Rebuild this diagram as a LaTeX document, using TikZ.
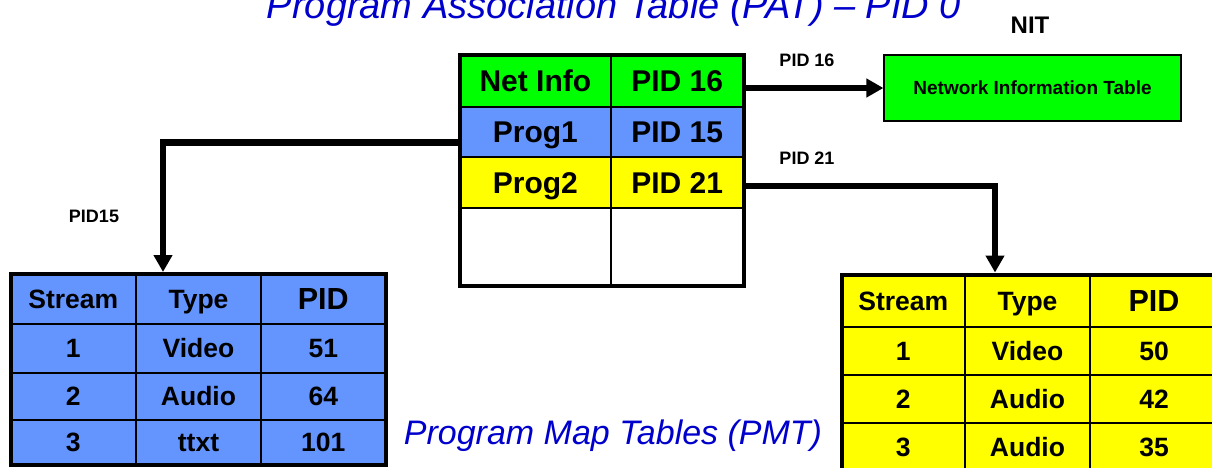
\documentclass[tikz,border=0pt]{standalone}
\usepackage{fontspec}
\setmainfont{Liberation Sans}
\usetikzlibrary{arrows.meta,fit}
\definecolor{netgreen}{RGB}{0,255,0}
\definecolor{progblue}{RGB}{100,149,255}
\definecolor{progyellow}{RGB}{255,255,0}
\definecolor{titleblue}{RGB}{0,0,204}
\begin{document}
\begin{tikzpicture}[x=1pt,y=-1pt,
  cell/.style={draw=black, line width=2pt, inner sep=0pt, outer sep=0pt,
    text height={#1pt*0.716}, text depth=0pt, font=\bfseries\fontsize{#1}{#1}\selectfont},
  cell/.default=26.5,
  sz/.style 2 args={minimum width=#1pt, minimum height=#2pt},
  frame/.style={draw=black, line width=4pt, inner sep=0pt},
  conn/.style={draw=black, line width=6.5pt, -{Triangle[width=18pt,length=17pt]}},
  lbl/.style={font=\bfseries\fontsize{18}{18}\selectfont, inner sep=0pt},
  heading/.style={font=\itshape\fontsize{#1}{#1}\selectfont, text=titleblue, inner sep=0pt, anchor=base}
]
\useasboundingbox (0,0) rectangle (1212,467);
\clip (0,0) rectangle (1212,467);
\fill[white] (0,0) rectangle (1212,467);

% Program Association Table
\node[cell=30, fill=netgreen, sz={151.7}{51.7}]   (netinfo) at (535.35,81.2)  {Net Info};
\node[cell=30, fill=netgreen, sz={132.8}{51.7}]   (pid16)   at (677.1,81.2)   {PID 16};
\node[cell=30, fill=progblue, sz={151.7}{50}]     (prog1)   at (535.35,131.7) {Prog1};
\node[cell=30, fill=progblue, sz={132.8}{50}]     (pid15)   at (677.1,131.7)  {PID 15};
\node[cell=30, fill=progyellow, sz={151.7}{51.6}] (prog2)   at (535.35,182.5) {Prog2};
\node[cell=30, fill=progyellow, sz={132.8}{51.6}] (pid21)   at (677.1,182.5)  {PID 21};
\node[cell=30, fill=white, sz={151.7}{77.2}]      (free1)   at (535.35,246.9) {};
\node[cell=30, fill=white, sz={132.8}{77.2}]      (free2)   at (677.1,246.9)  {};
\node[frame, fit=(netinfo)(free2)] (pat) {};

% Program Map Table for Prog1
\node[cell, fill=progblue, sz={125.5}{50}]      (l00) at (73.25,299)   {Stream};
\node[cell, fill=progblue, sz={125}{50}]        (l01) at (198.5,299)   {Type};
\node[cell=30.5, fill=progblue, sz={124.5}{50}] (l02) at (323.25,299)  {PID};
\node[cell, fill=progblue, sz={125.5}{49}]      (l10) at (73.25,348.5) {1};
\node[cell, fill=progblue, sz={125}{49}]        (l11) at (198.5,348.5) {Video};
\node[cell, fill=progblue, sz={124.5}{49}]      (l12) at (323.25,348.5){51};
\node[cell, fill=progblue, sz={125.5}{47}]      (l20) at (73.25,396.5) {2};
\node[cell, fill=progblue, sz={125}{47}]        (l21) at (198.5,396.5) {Audio};
\node[cell, fill=progblue, sz={124.5}{47}]      (l22) at (323.25,396.5){64};
\node[cell, fill=progblue, sz={125.5}{44.5}]    (l30) at (73.25,442.25){3};
\node[cell, fill=progblue, sz={125}{44.5}]      (l31) at (198.5,442.25){ttxt};
\node[cell, fill=progblue, sz={124.5}{44.5}]    (l32) at (323.25,442.25){101};
\node[frame, fit=(l00)(l32)] (lpmt) {};

% Program Map Table for Prog2
\node[cell, fill=progyellow, sz={123.5}{52.2}]   (r00) at (903.25,300.6)  {Stream};
\node[cell, fill=progyellow, sz={125}{52.2}]     (r01) at (1027.5,300.6)  {Type};
\node[cell=30.5, fill=progyellow, sz={128}{52.2}](r02) at (1154,300.6)    {PID};
\node[cell, fill=progyellow, sz={123.5}{48.3}]   (r10) at (903.25,350.85) {1};
\node[cell, fill=progyellow, sz={125}{48.3}]     (r11) at (1027.5,350.85) {Video};
\node[cell, fill=progyellow, sz={128}{48.3}]     (r12) at (1154,350.85)   {50};
\node[cell, fill=progyellow, sz={123.5}{47.7}]   (r20) at (903.25,398.85) {2};
\node[cell, fill=progyellow, sz={125}{47.7}]     (r21) at (1027.5,398.85) {Audio};
\node[cell, fill=progyellow, sz={128}{47.7}]     (r22) at (1154,398.85)   {42};
\node[cell, fill=progyellow, sz={123.5}{49.3}]   (r30) at (903.25,447.35) {3};
\node[cell, fill=progyellow, sz={125}{49.3}]     (r31) at (1027.5,447.35) {Audio};
\node[cell, fill=progyellow, sz={128}{49.3}]     (r32) at (1154,447.35)   {35};
\node[frame, fit=(r00)(r32)] (rpmt) {};

% Network Information Table
\node[draw=black, line width=1.2pt, fill=netgreen, minimum width=297pt, minimum height=66pt,
      inner sep=0pt, text height=13.6pt, text depth=0pt,
      font=\bfseries\fontsize{19}{19}\selectfont] (nit) at (1032.5,88) {Network Information Table};
\node[font=\bfseries\fontsize{24}{24}\selectfont, inner sep=0pt] (nitlbl) at (1030,25) {NIT};

% PID links
\draw[conn] (pid16.east |- nit.west) -- (nit.west);
\draw[conn] ([yshift=-11pt]prog1.west) -| ([xshift=154.5pt]lpmt.north west);
\draw[conn] ([yshift=-3.5pt]pid21.east) -| ([xshift=155.5pt]rpmt.north west);

\node[lbl] (lbl16) at (807,60)  {PID 16};
\node[lbl] (lbl21) at (807,158) {PID 21};
\node[lbl] (lbl15) at (94,216)  {PID15};

% Headings
\node[heading=38] (pathead) at (614,18)  {Program Association Table (PAT) – PID 0};
\node[heading=34] (pmthead) at (613,444) {Program Map Tables (PMT)};
\end{tikzpicture}
\end{document}
